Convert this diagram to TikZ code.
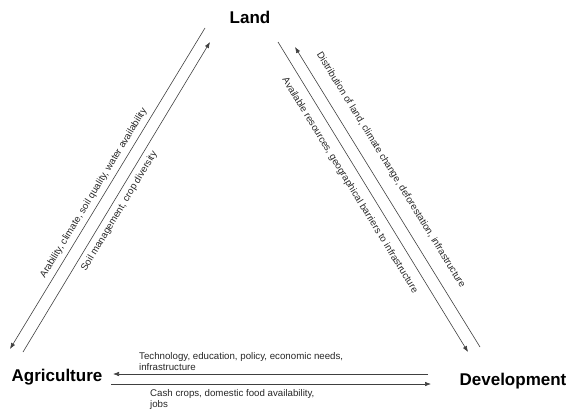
\documentclass[tikz,border=0pt]{standalone}
\usepackage{fontspec}
\setmainfont{Liberation Sans}
\usetikzlibrary{arrows.meta}

\tikzset{
  corner/.style={font=\fontsize{17}{20}\selectfont\bfseries, inner sep=0pt},
  link/.style={draw=black!75, line width=0.6pt, >={Latex[length=6pt,width=4.5pt]}},
  why/.style={font=\fontsize{9.7}{11}\selectfont, text=black!85, inner sep=0pt},
}

\begin{document}
\begin{tikzpicture}[x=1pt,y=-1pt]
\useasboundingbox (0,0) rectangle (569,412);

%% the three corners
\node[corner, anchor=base] (land) at (250,24) {Land};
\node[corner, anchor=base] (agri) at (57,381) {Agriculture};
\node[corner, anchor=base] (dev) at (513,385) {Development};

%% arrow ends (they stop short of the words)
% land -- agriculture
\coordinate (la1) at (205,28);
\coordinate (la2) at (210,42);
\coordinate (al1) at (10,349);
\coordinate (al2) at (23,352);
% land -- development
\coordinate (ld1) at (278,42);
\coordinate (ld2) at (295,47);
\coordinate (dl1) at (468,352);
\coordinate (dl2) at (480,347);
% agriculture -- development
\coordinate (ad1) at (113,374);
\coordinate (ad2) at (428,374);
\coordinate (da1) at (111,384);
\coordinate (da2) at (431,384);

%% left side
\draw[link,<-] (al1) -- (la1)
  node[why, sloped, pos=0.47, above=4.5pt] (arab) {Arability, climate, soil quality, water availability};
\draw[link,->] (al2) -- (la2)
  node[why, sloped, pos=0.47, below=5pt] (soil) {Soil management, crop diversity};

%% right side
\draw[link,->] (ld1) -- (dl1)
  node[why, sloped, pos=0.44, below=9pt] (avail) {Available resources, geographical barriers to infrastructure};
\draw[link,<-] (ld2) -- (dl2)
  node[why, sloped, pos=0.44, above=12pt] (distr) {Distribution of land, climate change, deforestation, infrastructure};

%% bottom
\draw[link,->] (ad2) -- (ad1);
\draw[link,->] (da1) -- (da2);
\node[why, anchor=north west, align=left] (tech) at (139,352) {Technology, education, policy, economic needs,\\infrastructure};
\node[why, anchor=north west, align=left] (cash) at (150,389) {Cash crops, domestic food availability,\\jobs};

\end{tikzpicture}
\end{document}
